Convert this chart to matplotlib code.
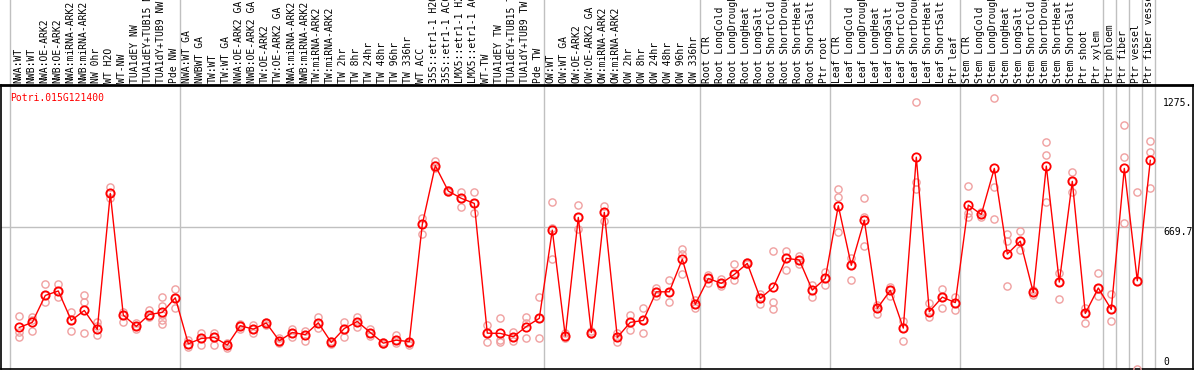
import matplotlib
matplotlib.use("Agg")
import matplotlib.pyplot as plt

# sample labels, left to right
labels = [
    "NWA:WT", "NWB:WT", "NWA:OE-ARK2", "NWB:OE-ARK2", "NWA:miRNA-ARK2", "NWB:miRNA-ARK2",
    "NW 0hr", "WT H2O", "WT-NW", "TUA1dEY NW", "TUA1dEY+TUB15 NW", "TUA1dY+TUB9 NW", "Pde NW",
    "NWA:WT GA", "NWBWT GA", "TW:WT", "TW:WT GA", "NWA:OE-ARK2 GA", "NWB:OE-ARK2 GA",
    "TW:OE-ARK2", "TW:OE-ARK2 GA", "NWA:miRNA-ARK2", "NWB:miRNA-ARK2", "TW:miRNA-ARK2",
    "TW:miRNA-ARK2", "TW 2hr", "TW 8hr", "TW 24hr", "TW 48hr", "TW 96hr", "TW 336hr",
    "WT ACC", "35S::etr1-1 H2O", "35S::etr1-1 ACC", "LMX5::etr1-1 H2O", "LMX5::etr1-1 ACC",
    "WT-TW", "TUA1dEY TW", "TUA1dEY+TUB15 TW", "TUA1dY+TUB9 TW", "Pde TW",
    "OW:WT", "OW:WT GA", "OW:OE-ARK2", "OW:OE-ARK2 GA", "OW:miRNA-ARK2", "OW:miRNA-ARK2",
    "OW 2hr", "OW 8hr", "OW 24hr", "OW 48hr", "OW 96hr", "OW 336hr",
    "Root CTR", "Root LongCold", "Root LongDrought", "Root LongHeat", "Root LongSalt",
    "Root ShortCold", "Root ShortDrought", "Root ShortHeat", "Root ShortSalt", "Ptr root",
    "Leaf CTR", "Leaf LongCold", "Leaf LongDrought", "Leaf LongHeat", "Leaf LongSalt",
    "Leaf ShortCold", "Leaf ShortDrought", "Leaf ShortHeat", "Leaf ShortSalt", "Ptr leaf",
    "Stem CTR", "Stem LongCold", "Stem LongDrought", "Stem LongHeat", "Stem LongSalt",
    "Stem ShortCold", "Stem ShortDrought", "Stem ShortHeat", "Stem ShortSalt", "Ptr shoot",
    "Ptr xylem", "Ptr phloem", "Ptr fiber", "Ptr vessel", "Ptr fiber vessel",
]

# mean expression per sample
means = [
    196, 220, 347, 368, 229, 276, 187, 828, 254, 201, 257, 267, 336,
    119, 144, 149, 113, 204, 188, 217, 133, 172, 162, 218, 125, 191, 224, 172, 122,
    136, 129, 682, 959, 839, 805, 781, 169, 168, 152, 200, 239,
    655, 155, 715, 172, 739, 149, 220, 229, 364, 364, 518, 305,
    427, 404, 446, 498, 333, 385, 522, 514, 372, 427,
    770, 489, 702, 286, 371, 193, 999, 270, 339, 313,
    773, 729, 946, 542, 603, 361, 957, 410, 885, 262,
    382, 281, 946, 416, 984,
]

# replicate values per sample
replicates = [
    [250, 176, 152], [247, 231, 180], [402, 347, 316], [399, 368, 338], [270, 229, 180],
    [349, 314, 168], [220, 204, 162], [858, 828, 805], [270, 254, 223], [217, 201, 191],
    [276, 257, 246], [338, 297, 257, 231, 212], [377, 336, 290],
    [136, 119, 105], [172, 144, 113], [168, 149, 113], [121, 113, 97], [210, 204, 191],
    [207, 188, 172], [223, 217, 207], [144, 133, 121], [191, 172, 149], [179, 162, 133],
    [246, 218, 195], [132, 125, 116], [220, 191, 149], [246, 224, 199], [191, 172, 157],
    [129, 122, 116], [160, 136, 121], [129, 122, 113], [710, 682, 635], [981, 962, 946],
    [844, 839, 833], [833, 805, 762], [833, 781, 735], [207, 169, 125], [239, 136, 129],
    [176, 152, 132], [243, 215, 147], [338, 239, 144],
    [786, 663, 517], [168, 155, 144], [773, 715, 660], [179, 172, 163], [770, 739, 699],
    [172, 149, 129], [257, 220, 185], [286, 229, 168], [383, 364, 346], [418, 364, 314],
    [566, 541, 446], [325, 305, 286],
    [443, 427, 404], [423, 404, 391], [493, 446, 419], [503, 498, 493], [352, 333, 305],
    [556, 314, 283], [556, 522, 465], [534, 514, 495], [396, 372, 338], [459, 427, 394],
    [847, 812, 647], [522, 489, 418], [805, 718, 578], [302, 286, 259], [388, 371, 346],
    [228, 193, 133], [1257, 883, 849], [309, 270, 246], [377, 339, 289], [339, 313, 276],
    [861, 734, 715], [742, 729, 718], [1276, 860, 706], [636, 603, 391], [651, 603, 559],
    [372, 361, 349], [1069, 1009, 786], [451, 410, 330], [927, 885, 833], [289, 262, 215],
    [451, 382, 346], [352, 281, 225], [1149, 998, 690], [833, 415, 0], [1075, 1025, 852],
]

# separators drawn after these sample indices (0-based)
group_ends = [12, 40, 52, 62, 72, 83, 84, 85, 86, 87]

gene = "Potri.015G121400"
y_max_label = "1275."
y_mid = 669.7

W, H = 1194, 370
fig = plt.figure(figsize=(W / 100, H / 100), dpi=100)
ax = fig.add_axes([1 / W, 1 / H, 1192 / W, 284 / H])

mono = "DejaVu Sans Mono"
n = len(labels)
xs = list(range(n))

# replicate dots
for i, reps in enumerate(replicates):
    ax.plot([i] * len(reps), reps, linestyle="none", marker="o", ms=5.2,
            mfc="none", mec="#f0a0a0", mew=1.0, zorder=3)

# mean line
ax.plot(xs, means, color="red", lw=1.0, marker="o", ms=6, mfc="none",
        mec="red", mew=1.3, zorder=4)

ax.set_xlim((1 - 19.3) / 13, (1193 - 19.3) / 13)
ax.set_ylim(0, 2 * y_mid)

# grid
ax.axhline(y_mid, xmin=0, xmax=0.975, color="#c0c0c0", lw=1, zorder=1)
top_ext = (369 - 0) / 284
ax.axvline(-0.7, ymin=0, ymax=top_ext, color="#c0c0c0", lw=1, clip_on=False, zorder=1)
for g in group_ends:
    ax.axvline(g + 0.38, ymin=0, ymax=top_ext, color="#c0c0c0", lw=1, clip_on=False, zorder=1)

# sample labels above the plot
for i, lab in enumerate(labels):
    ax.text(i - 0.1, 1.008, lab, rotation=90, ha="center", va="bottom",
            fontsize=7, family=mono, transform=ax.get_xaxis_transform(), clip_on=False)

ax.text(9 / 1192, 0.973, gene, color="red", fontsize=7, family=mono,
        ha="left", va="top", transform=ax.transAxes)

# value labels on the right
xr = (1163 - 1) / 1192
ax.text(xr, (369 - 103) / 284, y_max_label, fontsize=7, family=mono, ha="left",
        va="center", transform=ax.transAxes)
ax.text(xr, (369 - 232) / 284, f"{y_mid}", fontsize=7, family=mono, ha="left",
        va="center", transform=ax.transAxes)
ax.text(xr, (369 - 362) / 284, "0", fontsize=7, family=mono, ha="left",
        va="center", transform=ax.transAxes)

ax.set_xticks([])
ax.set_yticks([])
for s in ax.spines.values():
    s.set_color("black")
    s.set_linewidth(1.2)
ax.spines["top"].set_linewidth(2)

fig.savefig("out.png", dpi=100)
